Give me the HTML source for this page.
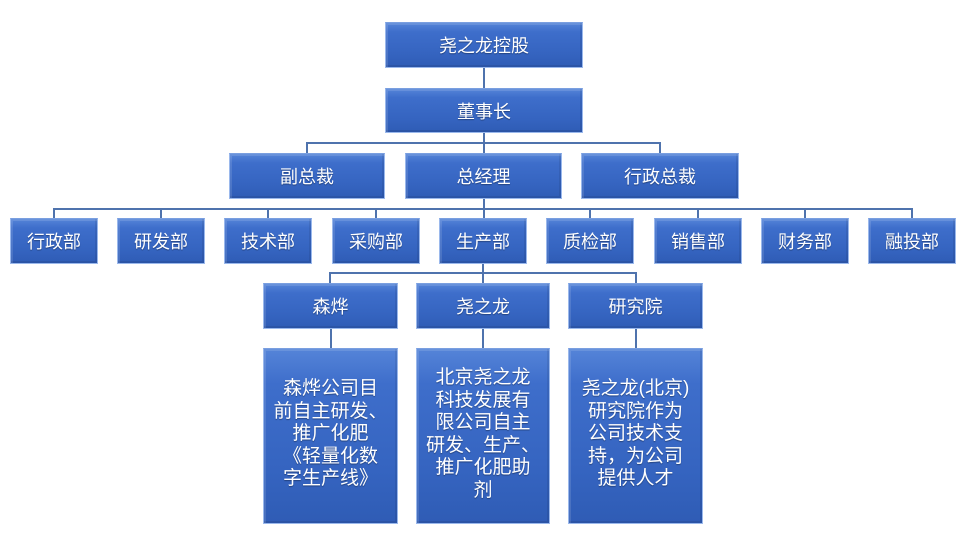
<!DOCTYPE html>
<html><head><meta charset="utf-8"><style>
body{margin:0;width:969px;height:541px;background:#fff;position:relative;overflow:hidden;font-family:"Liberation Sans","Noto Sans CJK SC",sans-serif}
.b{position:absolute;box-sizing:border-box;background:linear-gradient(180deg,#5584d8 0%,#3e6ecb 20%,#3564c0 70%,#2f5cb5 100%);border:1px solid #9ab8ec;border-top-color:#7a9fe0;color:#fff;font-size:18px;display:flex;align-items:center;justify-content:center;text-align:center;text-shadow:0 1px 1px rgba(0,0,0,.35);box-shadow:inset 2px 2px 0 rgba(255,255,255,.12),inset -2px -2px 0 rgba(0,0,0,.08)}
.d{font-size:19px;line-height:22.5px;padding:0;align-items:flex-start;white-space:nowrap}
.l{position:absolute;background:#4f73ad}
</style></head><body>
<div class="l" style="left:483px;top:68px;width:2px;height:20px"></div>
<div class="l" style="left:483px;top:133px;width:2px;height:20px"></div>
<div class="l" style="left:306px;top:142px;width:355px;height:2px"></div>
<div class="l" style="left:306px;top:142px;width:2px;height:11px"></div>
<div class="l" style="left:659px;top:142px;width:2px;height:11px"></div>
<div class="l" style="left:483px;top:199px;width:2px;height:19px"></div>
<div class="l" style="left:53px;top:208px;width:860px;height:2px"></div>
<div class="l" style="left:53px;top:208px;width:2px;height:10px"></div>
<div class="l" style="left:160px;top:208px;width:2px;height:10px"></div>
<div class="l" style="left:267px;top:208px;width:2px;height:10px"></div>
<div class="l" style="left:375px;top:208px;width:2px;height:10px"></div>
<div class="l" style="left:589px;top:208px;width:2px;height:10px"></div>
<div class="l" style="left:697px;top:208px;width:2px;height:10px"></div>
<div class="l" style="left:804px;top:208px;width:2px;height:10px"></div>
<div class="l" style="left:911px;top:208px;width:2px;height:10px"></div>
<div class="l" style="left:482px;top:264px;width:2px;height:19px"></div>
<div class="l" style="left:329px;top:272px;width:308px;height:2px"></div>
<div class="l" style="left:329px;top:272px;width:2px;height:11px"></div>
<div class="l" style="left:635px;top:272px;width:2px;height:11px"></div>
<div class="l" style="left:330px;top:328px;width:2px;height:20px"></div>
<div class="l" style="left:482px;top:328px;width:2px;height:20px"></div>
<div class="l" style="left:635px;top:328px;width:2px;height:20px"></div>
<div class="b" style="left:385px;top:22px;width:198px;height:46px">尧之龙控股</div>
<div class="b" style="left:385px;top:88px;width:198px;height:45px">董事长</div>
<div class="b" style="left:229px;top:153px;width:156px;height:46px">副总裁</div>
<div class="b" style="left:405px;top:153px;width:157px;height:46px">总经理</div>
<div class="b" style="left:581px;top:153px;width:158px;height:46px">行政总裁</div>
<div class="b" style="left:10px;top:218px;width:88px;height:46px">行政部</div>
<div class="b" style="left:117px;top:218px;width:88px;height:46px">研发部</div>
<div class="b" style="left:224px;top:218px;width:88px;height:46px">技术部</div>
<div class="b" style="left:332px;top:218px;width:88px;height:46px">采购部</div>
<div class="b" style="left:439px;top:218px;width:88px;height:46px">生产部</div>
<div class="b" style="left:546px;top:218px;width:88px;height:46px">质检部</div>
<div class="b" style="left:654px;top:218px;width:88px;height:46px">销售部</div>
<div class="b" style="left:761px;top:218px;width:88px;height:46px">财务部</div>
<div class="b" style="left:868px;top:218px;width:88px;height:46px">融投部</div>
<div class="b" style="left:263px;top:283px;width:135px;height:46px">森烨</div>
<div class="b" style="left:416px;top:283px;width:134px;height:46px">尧之龙</div>
<div class="b" style="left:568px;top:283px;width:135px;height:46px">研究院</div>
<div class="b d" style="left:263px;top:348px;width:135px;height:176px;padding-top:29px">森烨公司目<br>前自主研发、<br>推广化肥<br>《轻量化数<br>字生产线》</div>
<div class="b d" style="left:416px;top:348px;width:134px;height:176px;padding-top:18px">北京尧之龙<br>科技发展有<br>限公司自主<br>研发、生产、<br>推广化肥助<br>剂</div>
<div class="b d" style="left:568px;top:348px;width:135px;height:176px;padding-top:29px">尧之龙(北京)<br>研究院作为<br>公司技术支<br>持，为公司<br>提供人才</div>
</body></html>
